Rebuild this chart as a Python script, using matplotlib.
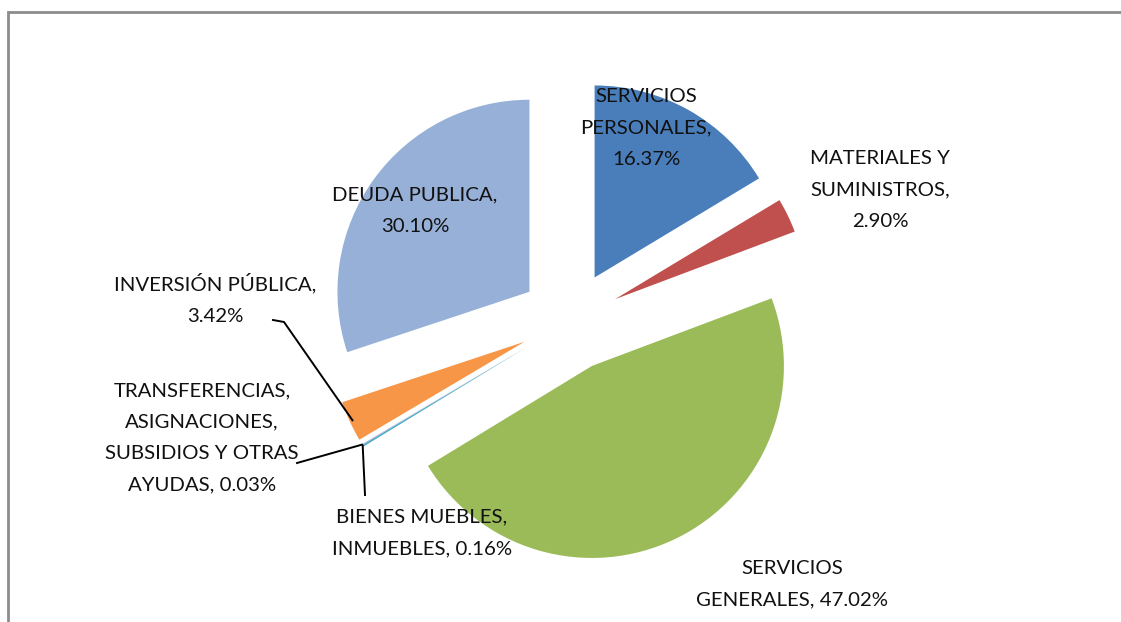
import numpy as np
import matplotlib
matplotlib.use("Agg")
import matplotlib.pyplot as plt
from matplotlib.patches import Rectangle

plt.rcParams['font.family'] = ['Lato', 'DejaVu Sans']

# datos del grafico
categorias = ["SERVICIOS\nPERSONALES", "MATERIALES Y\nSUMINISTROS", "SERVICIOS\nGENERALES",
              "BIENES MUEBLES,\nINMUEBLES", "TRANSFERENCIAS,\nASIGNACIONES,\nSUBSIDIOS Y OTRAS\nAYUDAS",
              "INVERSIÓN PÚBLICA", "DEUDA PUBLICA"]
porcentajes = [16.37, 2.90, 47.02, 0.16, 0.03, 3.42, 30.10]
colores = ["#4A7EBB", "#C0504D", "#9BBB59", "#4BACC6", "#8064A2", "#F79646", "#97B0D8"]
# separador entre nombre y valor (salto de linea o espacio)
separador = ["\n", "\n", " ", " ", " ", "\n", "\n"]

W, H = 1121, 622
fig = plt.figure(figsize=(W / 100, H / 100), dpi=100)
ax = fig.add_axes([0, 0, 1, 1])

R = 192
wedges, _ = ax.pie(porcentajes, colors=colores, startangle=90, counterclock=False,
                   radius=R, center=(570, H - 321), explode=[50] * len(porcentajes),
                   wedgeprops=dict(linewidth=0))
ax.set_xlim(0, W)
ax.set_ylim(0, H)
ax.axis('off')

# marco gris (recortado a la derecha y abajo)
ax.add_patch(Rectangle((8, -20), W + 20, H - 12 + 20, fill=False, edgecolor='#8c8c8c',
                       linewidth=2, clip_on=False))

def punto(w, frac=1.0):
    # punto sobre el angulo medio de la porcion
    t = np.deg2rad((w.theta1 + w.theta2) / 2)
    return w.center[0] + frac * w.r * np.cos(t), w.center[1] + frac * w.r * np.sin(t)

fs = 14.7
ls = 2.02
pos_etiquetas = [(646, 128), (880, 190), (792, 584), (422, 533), (202, 438), (215, 299), (415, 211)]
for c, p, s, (x, y) in zip(categorias, porcentajes, separador, pos_etiquetas):
    ax.text(x, H - y, f"{c},{s}{p:.2f}%", ha='center', va='center', fontsize=fs,
            linespacing=ls, color='#111111')

# lineas guia
px, py = punto(wedges[5], 0.985)
ax.plot([273, 284, px], [H - 320, H - 322, py], color='black', linewidth=1.4)
px, py = punto(wedges[4], 1.0)
ax.plot([297, px], [H - 463, py], color='black', linewidth=1.4)
px, py = punto(wedges[3], 1.0)
ax.plot([365, px], [H - 495, py], color='black', linewidth=1.4)

fig.savefig("out.png", dpi=100)
